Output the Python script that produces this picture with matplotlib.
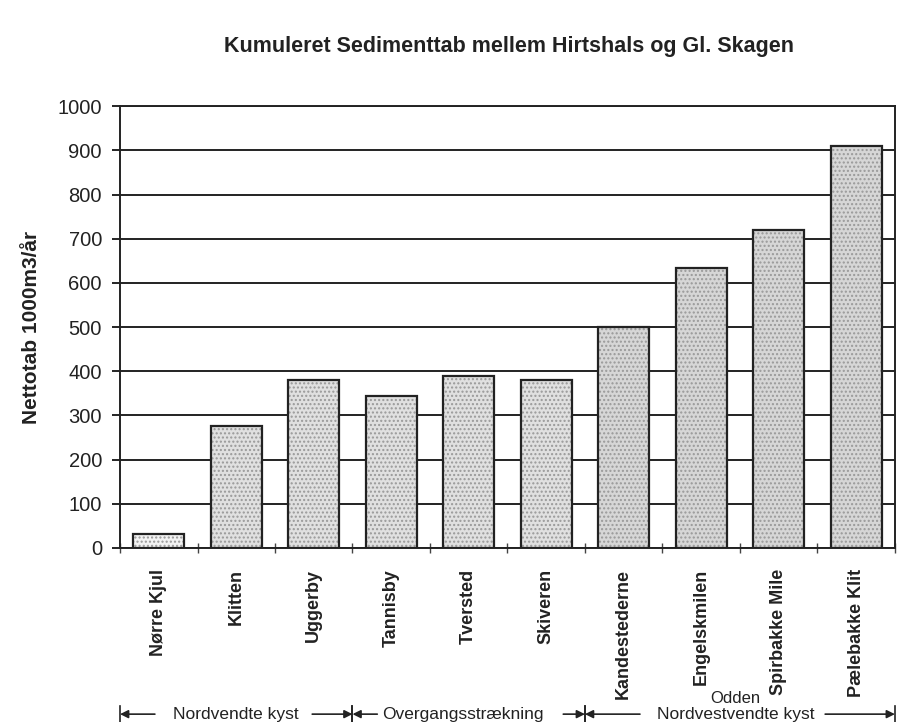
import matplotlib.pyplot as plt
import numpy as np

# --- data ---
places = ["Nørre Kjul", "Klitten", "Uggerby", "Tannisby", "Tversted",
          "Skiveren", "Kandestederne", "Engelskmilen", "Spirbakke Mile",
          "Pælebakke Klit"]
nettotab = [32, 277, 380, 343, 389, 380, 500, 633, 720, 910]

# coastal stretches: label, first and last place index
stretch_labels = ["Nordvendte kyst", "Overgangsstrækning", "Nordvestvendte kyst"]
stretch_first = [0, 3, 6]
stretch_last = [2, 5, 9]

plt.rcParams['font.family'] = ['Liberation Sans', 'DejaVu Sans']

fig = plt.figure(figsize=(9.17, 7.22), dpi=100)
ax = fig.add_axes([0.1309, 0.241, 0.845, 0.612])

x = np.arange(len(places))
fills = ['#f3f3f3'] + ['#e0e0e0'] * 5 + ['#d6d6d6'] * 4

# stippled fill first, then black outline on top
ax.bar(x, nettotab, width=0.66, color=fills, hatch='....',
       edgecolor='#999999', linewidth=0, zorder=2)
ax.bar(x, nettotab, width=0.66, facecolor='none', edgecolor='#222222',
       linewidth=1.6, zorder=3)

ax.set_xlim(-0.5, len(places) - 0.5)
ax.set_ylim(0, 1000)
ax.set_yticks(np.arange(0, 1001, 100))
ax.yaxis.grid(True, color='#222222', linewidth=1.4)
ax.set_axisbelow(True)

ax.set_xticks(x)
ax.set_xticklabels(places, rotation=90, fontsize=13, fontweight='bold',
                   color='#222222')
ax.set_xticks(np.arange(-0.5, len(places)), minor=True)
ax.tick_params(axis='x', which='major', length=0, pad=15)
ax.tick_params(axis='x', which='minor', direction='inout', length=7,
               width=1, color='#444444')
ax.tick_params(axis='y', direction='out', length=6, width=1.2,
               labelsize=14.5, pad=7, labelcolor='#222222')

for s in ax.spines.values():
    s.set_linewidth(1.4)
    s.set_color('#222222')

ax.set_ylabel("Nettotab 1000m3/år", fontsize=15, fontweight='bold',
              labelpad=12, color='#222222')
fig.text(0.555, 0.935, "Kumuleret Sedimenttab mellem Hirtshals og Gl. Skagen",
         ha='center', va='center', fontsize=15.5, fontweight='bold',
         color='#222222')

# --- brackets under the category labels ---
yb = -0.376
tr = ax.get_xaxis_transform()
text_centers = [1.0, 3.93, 7.45]
tails_left = [-0.05, 2.82, 6.21]
tails_right = [1.98, 5.22, 8.6]
for i, lab in enumerate(stretch_labels):
    left = stretch_first[i] - 0.5
    right = stretch_last[i] + 0.5
    ax.text(text_centers[i], yb, lab, transform=tr, ha='center', va='center',
            fontsize=12.5, color='#222222', clip_on=False)
    for edge, tail in [(left, tails_left[i]), (right, tails_right[i])]:
        ax.annotate("", xy=(edge, yb), xycoords=tr, xytext=(tail, yb),
                    textcoords=tr,
                    arrowprops=dict(arrowstyle='-|>', color='#222222',
                                    lw=1.2, mutation_scale=12,
                                    shrinkA=0, shrinkB=0),
                    annotation_clip=False)
    for edge in (left, right):
        ax.plot([edge, edge], [yb - 0.018, yb + 0.018], transform=tr,
                color='#222222', lw=1.2, clip_on=False)

ax.text(7.44, yb + 0.035, "Odden", transform=tr, ha='center', va='center',
        fontsize=12, color='#222222', clip_on=False)

fig.savefig("out.png", dpi=100)
